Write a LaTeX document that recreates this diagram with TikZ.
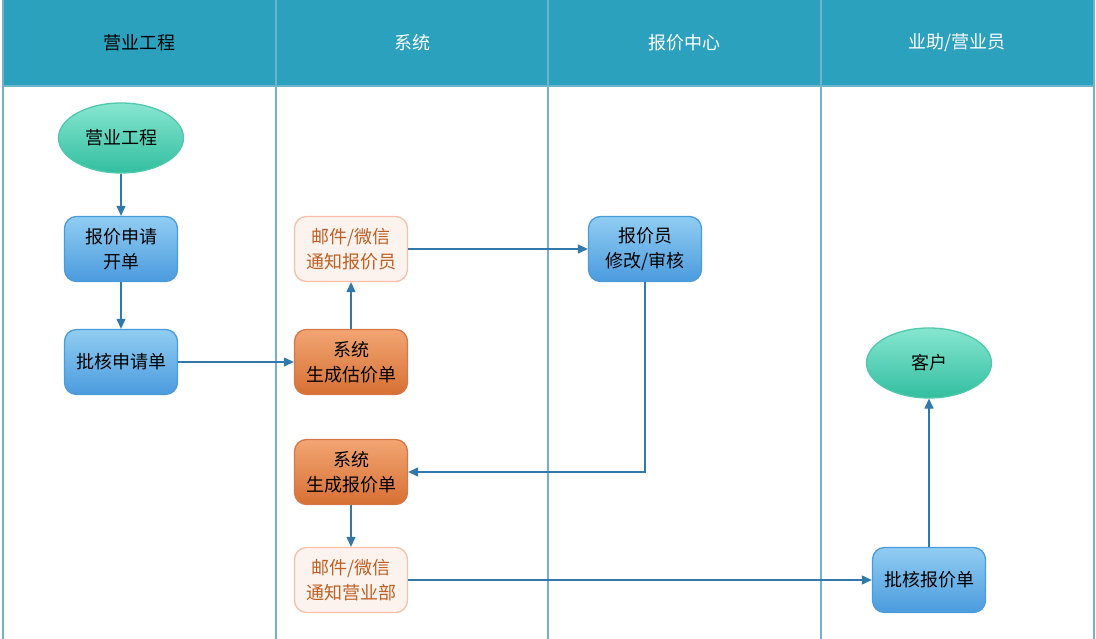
\documentclass[tikz,border=0pt]{standalone}
\usepackage{fontspec}
\setmainfont{Noto Sans CJK SC}
\usetikzlibrary{arrows.meta}
\usetikzlibrary{shapes.geometric}
\definecolor{lane-head}{RGB}{43, 161, 190}
\definecolor{lane-line}{RGB}{110, 180, 205}
\definecolor{flow-line}{RGB}{50, 120, 170}
\definecolor{blue-top}{RGB}{145, 205, 242}
\definecolor{blue-bottom}{RGB}{75, 155, 222}
\definecolor{blue-edge}{RGB}{75, 155, 218}
\definecolor{orange-top}{RGB}{242, 165, 115}
\definecolor{orange-bottom}{RGB}{215, 112, 52}
\definecolor{orange-edge}{RGB}{212, 120, 70}
\definecolor{pale-fill}{RGB}{253, 243, 238}
\definecolor{pale-edge}{RGB}{248, 192, 168}
\definecolor{pale-text}{RGB}{190, 95, 35}
\definecolor{green-top}{RGB}{135, 230, 208}
\definecolor{green-bottom}{RGB}{50, 190, 160}
\definecolor{green-edge}{RGB}{80, 200, 172}

\begin{document}
\begin{tikzpicture}[x=1pt, y=-1pt,
    every node/.style={font=\fontsize{18}{25}\selectfont, align=center, inner sep=0pt},
    box/.style={rounded corners=12pt, minimum width=113pt, minimum height=65pt, line width=1.3pt},
    bluebox/.style={box, draw=blue-edge, top color=blue-top, bottom color=blue-bottom},
    orangebox/.style={box, draw=orange-edge, top color=orange-top, bottom color=orange-bottom},
    palebox/.style={box, draw=pale-edge, fill=pale-fill, text=pale-text},
    endpoint/.style={ellipse, minimum width=125pt, minimum height=70pt, line width=1.3pt,
        draw=green-edge, top color=green-top, bottom color=green-bottom},
    flow/.style={draw=flow-line, line width=1.2pt, -{Triangle[length=10pt, width=9pt]}}]
\useasboundingbox (0,0) rectangle (1096,639);

\fill[lane-head] (3,0) rectangle (1094,86);
\draw[lane-line, line width=1.2pt] (3,86) -- (1094,86);
\foreach \x in {3, 276, 548, 821, 1094}
    \draw[lane-line, line width=1.5pt] (\x,0) -- (\x,639);

\node (head1) at (139,43) {营业工程};
\node[text=white] (head2) at (412,43) {系统};
\node[text=white] (head3) at (684,43) {报价中心};
\node[text=white] (head4) at (957,43) {业助/营业员};

\node[endpoint] (start) at (121,138) {营业工程};
\node[bluebox] (apply) at (121,249) {报价申请\\开单};
\node[bluebox] (approve) at (121,362) {批核申请单};

\node[palebox] (notify) at (351,249) {邮件/微信\\通知报价员};
\node[orangebox] (estimate) at (351,362) {系统\\生成估价单};
\node[orangebox] (quote) at (351,472) {系统\\生成报价单};
\node[palebox] (inform) at (351,580) {邮件/微信\\通知营业部};

\node[bluebox] (review) at (645,249) {报价员\\修改/审核};

\node[endpoint] (client) at (929,363) {客户};
\node[bluebox] (confirm) at (929,580) {批核报价单};

\draw[flow] (start) -- (apply);
\draw[flow] (apply) -- (approve);
\draw[flow] (approve) -- (estimate);
\draw[flow] (estimate) -- (notify);
\draw[flow] (notify) -- (review);
\draw[flow] (review.south) |- (quote.east);
\draw[flow] (quote) -- (inform);
\draw[flow] (inform) -- (confirm);
\draw[flow] (confirm) -- (client);
\end{tikzpicture}
\end{document}
